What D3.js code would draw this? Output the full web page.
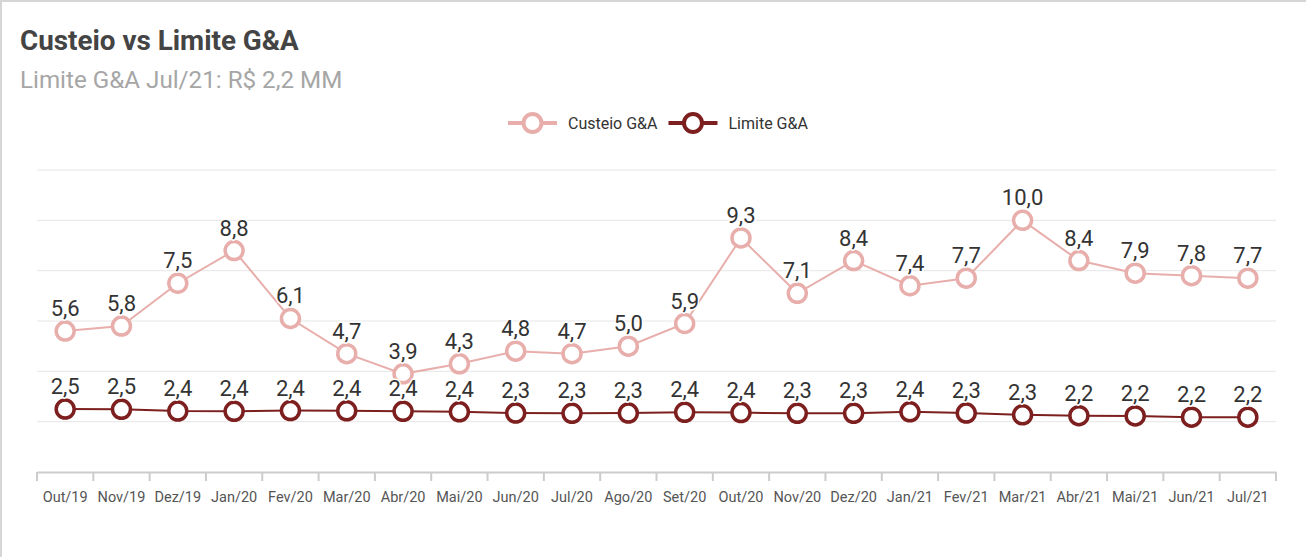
<!DOCTYPE html>
<html>
<head>
<meta charset="utf-8">
<script src="https://cdn.jsdelivr.net/npm/d3@7"></script>
<style>
  html, body { margin: 0; padding: 0; background: #fff; }
  svg { display: block; font-family: Roboto, "Noto Sans", sans-serif; }
</style>
</head>
<body>
<svg id="chart"></svg>
<script>
// Custeio vs Limite G&A — monthly cost vs limit, R$ MM

const months = ['Out/19', 'Nov/19', 'Dez/19', 'Jan/20', 'Fev/20', 'Mar/20', 'Abr/20', 'Mai/20',
    'Jun/20', 'Jul/20', 'Ago/20', 'Set/20', 'Out/20', 'Nov/20', 'Dez/20', 'Jan/21', 'Fev/21',
    'Mar/21', 'Abr/21', 'Mai/21', 'Jun/21', 'Jul/21'];
const custeio = [5.6, 5.8, 7.5, 8.8, 6.1, 4.7, 3.9, 4.3, 4.8, 4.7, 5.0, 5.9, 9.3, 7.1, 8.4, 7.4,
    7.7, 10.0, 8.4, 7.9, 7.8, 7.7];
const limite = [2.50, 2.49, 2.42, 2.41, 2.44, 2.43, 2.41, 2.39, 2.34, 2.33, 2.34, 2.37, 2.36, 2.33,
    2.33, 2.39, 2.34, 2.27, 2.24, 2.23, 2.18, 2.18];
const yTicks = [0, 2, 4, 6, 8, 10, 12];

const W = 1306, H = 557;
const plot = { left: 37, right: 1276, top: 170, bottom: 472 };

const series = [
    { name: 'Custeio G&A', values: custeio, color: '#e8aeab' },
    { name: 'Limite G&A', values: limite, color: '#7d1f1f' },
];

const fmt = v => v.toFixed(1).replace('.', ',');

const svg = d3.select('#chart').attr('width', W).attr('height', H);

// frame (top + left edges visible)
svg.append('path')
    .attr('d', `M1,${H} L1,1 L${W},1`)
    .attr('fill', 'none')
    .attr('stroke', '#d6d6d6')
    .attr('stroke-width', 2);

// Title + subtitle
svg.append('text')
    .attr('x', 20).attr('y', 50)
    .attr('font-size', '27.8px')
    .attr('font-weight', 'bold')
    .attr('fill', '#444')
    .text('Custeio vs Limite G&A');

svg.append('text')
    .attr('x', 20).attr('y', 88)
    .attr('font-size', '24.2px')
    .attr('fill', '#a6a6a6')
    .text('Limite G&A Jul/21: R$ 2,2 MM');

const x = d3.scaleBand()
    .domain(months)
    .range([plot.left, plot.right]);

const y = d3.scaleLinear()
    .domain([0, 12])
    .range([plot.bottom, plot.top]);

const cx = m => x(m) + x.bandwidth() / 2;

// Grid lines
svg.append('g')
    .selectAll('line')
    .data(yTicks.filter(d => d > 0))
    .enter()
    .append('line')
    .attr('x1', plot.left).attr('x2', plot.right)
    .attr('y1', d => y(d)).attr('y2', d => y(d))
    .attr('stroke', '#e6e6e6')
    .attr('stroke-width', 1);

// X axis
svg.append('g')
    .attr('transform', `translate(0,${y(0)})`)
    .call(d3.axisBottom(x).tickSize(0).tickPadding(20))
    .call(ax => ax.select('.domain').attr('stroke', '#ccc').attr('stroke-width', 2))
    .call(ax => ax.selectAll('.tick text')
        .attr('font-size', '14.5px')
        .attr('font-family', 'Roboto, "Noto Sans", sans-serif')
        .attr('fill', '#555'));

// band-boundary ticks
svg.append('g')
    .selectAll('line')
    .data(months.map(m => x(m)).concat([x(months[months.length - 1]) + x.bandwidth()]))
    .enter()
    .append('line')
    .attr('x1', d => d).attr('x2', d => d)
    .attr('y1', y(0)).attr('y2', y(0) + 9)
    .attr('stroke', '#ccc')
    .attr('stroke-width', 2);

// Lines
const line = d3.line()
    .x((d, i) => cx(months[i]))
    .y(d => y(d));

series.forEach(s => {
    svg.append('path')
        .datum(s.values)
        .attr('fill', 'none')
        .attr('stroke', s.color)
        .attr('stroke-width', 2)
        .attr('d', line);
});

// Markers
series.forEach(s => {
    svg.append('g')
        .selectAll('circle')
        .data(s.values)
        .enter()
        .append('circle')
        .attr('cx', (d, i) => cx(months[i]))
        .attr('cy', d => y(d))
        .attr('r', 9)
        .attr('fill', '#fff')
        .attr('stroke', s.color)
        .attr('stroke-width', 3.5);
});

// Data labels (white halo)
series.forEach(s => {
    svg.append('g')
        .selectAll('text')
        .data(s.values)
        .enter()
        .append('text')
        .attr('x', (d, i) => cx(months[i]))
        .attr('y', d => y(d) - 15)
        .attr('text-anchor', 'middle')
        .attr('font-size', '22px')
        .attr('fill', '#333')
        .attr('stroke', '#fff')
        .attr('stroke-width', 3)
        .attr('stroke-linejoin', 'round')
        .attr('paint-order', 'stroke')
        .text(d => fmt(d));
});

// Legend
const legend = svg.append('g').attr('transform', 'translate(508,123)');
let lx = 0;
series.forEach(s => {
    const item = legend.append('g').attr('transform', `translate(${lx},0)`);
    item.append('line')
        .attr('x1', 0).attr('x2', 49)
        .attr('y1', 0).attr('y2', 0)
        .attr('stroke', s.color)
        .attr('stroke-width', 4);
    item.append('circle')
        .attr('cx', 24.5).attr('cy', 0).attr('r', 9)
        .attr('fill', '#fff')
        .attr('stroke', s.color)
        .attr('stroke-width', 4);
    const t = item.append('text')
        .attr('x', 60).attr('y', 5.5)
        .attr('font-size', '16px')
        .attr('fill', '#333')
        .text(s.name);
    lx += 60 + t.node().getComputedTextLength() + 11;
});
</script>
</body>
</html>
